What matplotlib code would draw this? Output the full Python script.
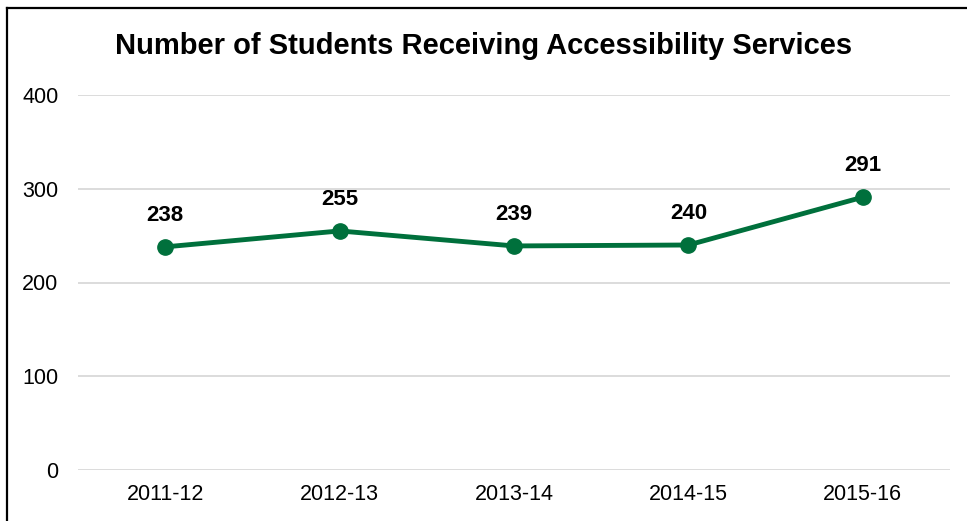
import matplotlib
matplotlib.use("Agg")
import matplotlib.pyplot as plt
from matplotlib.lines import Line2D

years = ["2011-12", "2012-13", "2013-14", "2014-15", "2015-16"]
students = [238, 255, 239, 240, 291]
y_ticks = [0, 100, 200, 300, 400]

green = "#00703C"
plt.rcParams["font.family"] = ["Liberation Sans", "DejaVu Sans"]

fig = plt.figure(figsize=(9.67, 5.21), dpi=100)
ax = fig.add_axes([78 / 967, 1 - 470 / 521, 872 / 967, 375 / 521])

x = list(range(len(years)))
ax.plot(x, students, color=green, lw=3.5, marker="o", ms=11, zorder=3,
        solid_capstyle="round")
for xi, v in zip(x, students):
    ax.annotate(str(v), (xi, v), xytext=(0, 15), textcoords="offset points",
                ha="center", va="bottom", fontsize=16, fontweight="bold")

ax.set_xlim(-0.5, len(years) - 0.5)
ax.set_ylim(0, 400)
ax.set_xticks(x)
ax.set_xticklabels(years)
ax.set_yticks(y_ticks)
ax.tick_params(axis="both", length=0, labelsize=15.5)
ax.tick_params(axis="y", pad=14)
ax.tick_params(axis="x", pad=10)
ax.grid(axis="y", color="#D9D9D9", lw=1.3)
ax.set_axisbelow(True)
for s in ax.spines.values():
    s.set_visible(False)

fig.text(0.5, 1 - 46 / 521, "Number of Students Receiving Accessibility Services",
         ha="center", va="center", fontsize=21, fontweight="bold")

# chart frame (top and left edges)
fig.add_artist(Line2D([7 / 967, 1.0], [1 - 7.5 / 521] * 2, color="black", lw=1.6,
                      transform=fig.transFigure))
fig.add_artist(Line2D([7 / 967] * 2, [0.0, 1 - 7.5 / 521], color="black", lw=1.6,
                      transform=fig.transFigure))

fig.savefig("out.png", dpi=100)
